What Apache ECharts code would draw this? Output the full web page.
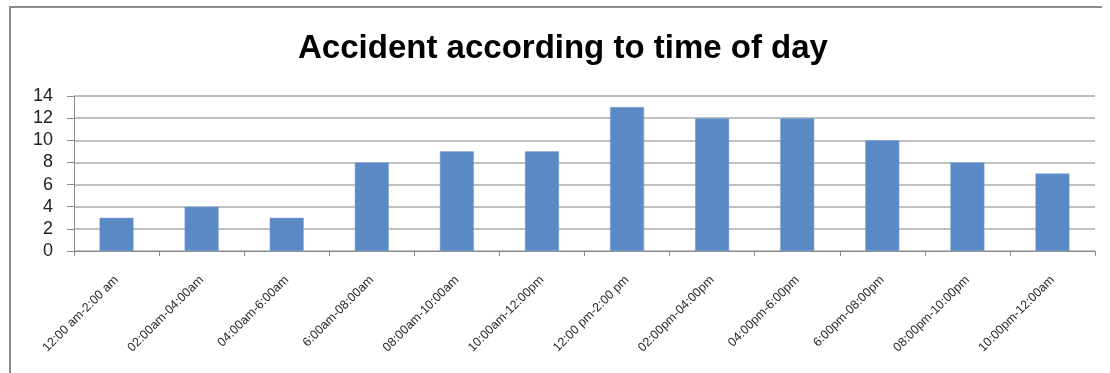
<!DOCTYPE html>
<html>
<head>
<meta charset="utf-8">
<title>Accident according to time of day</title>
<script src="https://cdn.jsdelivr.net/npm/echarts@6/dist/echarts.min.js"></script>
<style>
  html, body { margin: 0; padding: 0; background: #fff; }
  #chart { width: 1110px; height: 373px; }
</style>
</head>
<body>
<div id="chart"></div>
<script>
// Two-hour time slots across the day
const timeSlots = [
  '12:00 am-2:00 am', '02:00am-04:00am', '04:00am-6:00am', '6:00am-08:00am',
  '08:00am-10:00am', '10:00am-12:00pm', '12:00 pm-2:00 pm', '02:00pm-04:00pm',
  '04:00pm-6:00pm', '6:00pm-08:00pm', '08:00pm-10:00pm', '10:00pm-12:00am'
];
// Number of accidents in each slot
const accidents = [3, 4, 3, 8, 9, 9, 13, 12, 12, 10, 8, 7];
// Value axis range
const yMin = 0, yMax = 14, yStep = 2;

const chart = echarts.init(document.getElementById('chart'), null, { renderer: 'canvas' });

chart.setOption({
  animation: false,
  backgroundColor: '#fff',
  graphic: [
    // chart frame (top and left edges)
    { type: 'line', shape: { x1: 10, y1: 7, x2: 1102, y2: 7 }, style: { stroke: '#8c8c8c', lineWidth: 2 } },
    { type: 'line', shape: { x1: 10, y1: 6, x2: 10, y2: 373 }, style: { stroke: '#8c8c8c', lineWidth: 2 } },
    {
      type: 'text', x: 563, y: 49,
      style: {
        text: 'Accident according to time of day',
        font: 'bold 33px "Liberation Sans", Arial, sans-serif',
        fill: '#000', textAlign: 'center', textVerticalAlign: 'middle'
      }
    }
  ],
  grid: { left: 74, right: 15, top: 96, bottom: 122, containLabel: false },
  xAxis: {
    type: 'category',
    data: timeSlots,
    boundaryGap: true,
    axisLine: { show: true, lineStyle: { color: '#8c8c8c', width: 1 } },
    axisTick: { show: true, length: 5, alignWithLabel: false, lineStyle: { color: '#8c8c8c' } },
    axisLabel: {
      rotate: 45, interval: 0, margin: 27,
      fontFamily: '"Liberation Sans", Arial, sans-serif', fontSize: 12.5, color: '#2a2a2a'
    },
    splitLine: { show: false }
  },
  yAxis: {
    type: 'value',
    min: yMin, max: yMax, interval: yStep,
    axisLine: { show: true, lineStyle: { color: '#8c8c8c', width: 1 } },
    axisTick: { show: true, length: 7, inside: false, lineStyle: { color: '#8c8c8c' } },
    axisLabel: {
      margin: 21, fontFamily: '"Liberation Sans", Arial, sans-serif', fontSize: 18, color: '#222'
    },
    splitLine: { show: true, lineStyle: { color: '#ababab', width: 1.5 } }
  },
  series: [{
    type: 'bar',
    data: accidents,
    barWidth: '40%',
    itemStyle: { color: '#5a8ac6', borderColor: '#7fa5d6', borderWidth: 0.5 }
  }]
});
</script>
</body>
</html>
